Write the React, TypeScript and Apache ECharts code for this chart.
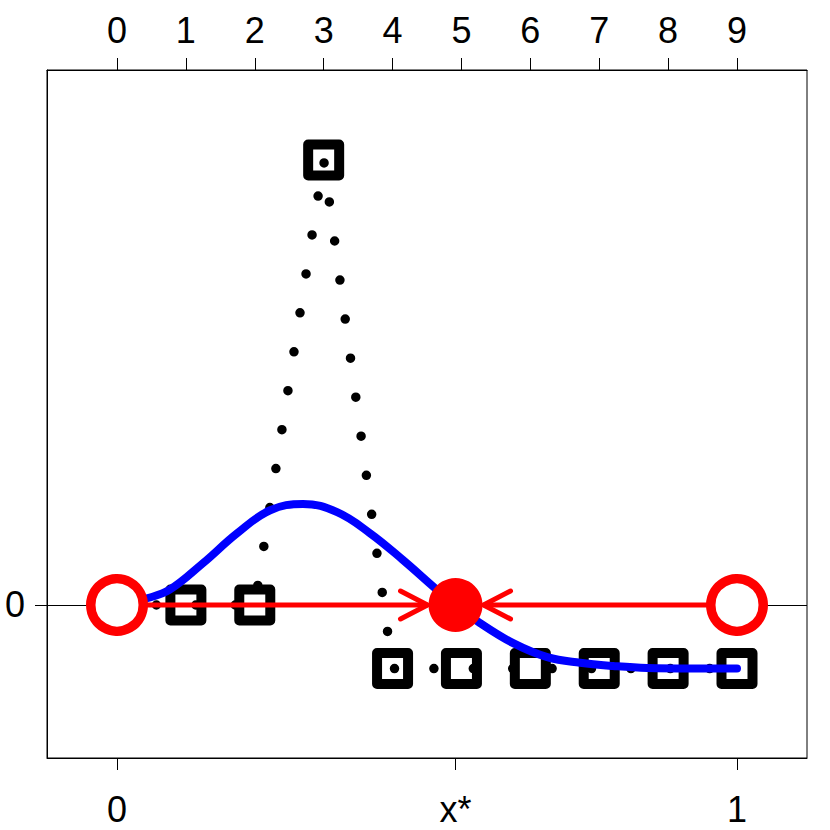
import React, { useEffect, useRef } from "react";
import * as echarts from "echarts";

// ---- data ----
const stepTicks = [0, 1, 2, 3, 4, 5, 6, 7, 8, 9];
const stepValues = [0, 0, 0, 7, -1, -1, -1, -1, -1, -1];
const xStar = 0.546;
const bottomTickValues = [0, xStar, 1];
const bottomTickLabels = ["0", "x*", "1"];
const yTickValues = [0];
const curveX = [0, 0.05, 0.085, 0.139, 0.194, 0.247, 0.3, 0.355, 0.408, 0.461, 0.516, 0.546, 0.585, 0.639, 0.694, 0.747, 0.8, 0.855, 1.0];
const curveY = [0, 0.11, 0.24, 0.66, 1.13, 1.49, 1.59, 1.46, 1.13, 0.71, 0.24, 0, -0.28, -0.6, -0.82, -0.91, -0.96, -0.99, -1.0];
const unstablePoints = [0, 1];
const stablePoints = [xStar];
// arrows: [start, end, y]
const arrows = [
  [0, xStar, 0],
  [1, xStar, 0],
];

const FONT = "Liberation Sans";
const FS = 36;

export default function App() {
  const ref = useRef<HTMLDivElement>(null);
  useEffect(() => {
    if (!ref.current) return;
    const chart = echarts.init(ref.current, undefined, { renderer: "svg" });
    const bxMin = -0.1129;
    const bxMax = 1.1129;
    const option: any = {
      animation: false,
      backgroundColor: "#fff",
      grid: {
        left: 47,
        right: 23,
        top: 70,
        bottom: 72,
        show: true,
        borderColor: "#000",
        borderWidth: 1,
        backgroundColor: "transparent",
      },
      xAxis: [
        {
          type: "value",
          position: "bottom",
          min: bxMin,
          max: bxMax,
          axisLine: { show: true, onZero: false, lineStyle: { color: "#000", width: 1 } },
          axisTick: { show: true, customValues: bottomTickValues, length: 12, lineStyle: { color: "#000", width: 1 } },
          axisLabel: {
            show: true,
            customValues: bottomTickValues,
            margin: 33,
            fontFamily: FONT,
            fontSize: FS,
            color: "#000",
            formatter: (v: number) => {
              const i = bottomTickValues.findIndex((t) => Math.abs(t - v) < 1e-6);
              return i >= 0 ? bottomTickLabels[i] : "";
            },
          },
          splitLine: { show: false },
        },
        {
          type: "value",
          position: "top",
          min: bxMin * 9,
          max: bxMax * 9,
          axisLine: { show: true, onZero: false, lineStyle: { color: "#000", width: 1 } },
          axisTick: { show: true, customValues: stepTicks, length: 12, lineStyle: { color: "#000", width: 1 } },
          axisLabel: {
            show: true,
            customValues: stepTicks,
            margin: 22,
            fontFamily: FONT,
            fontSize: FS,
            color: "#000",
            formatter: (v: number) => String(Math.round(v)),
          },
          splitLine: { show: false },
        },
      ],
      yAxis: {
        type: "value",
        min: -2.407,
        max: 8.416,
        axisLine: { show: true, onZero: false, lineStyle: { color: "#000", width: 1 } },
        axisTick: { show: true, customValues: yTickValues, length: 12, lineStyle: { color: "#000", width: 1 } },
        axisLabel: {
          show: true,
          customValues: yTickValues,
          margin: 22,
          fontFamily: FONT,
          fontSize: FS,
          color: "#000",
        },
        splitLine: { show: false },
      },
      series: [
        {
          type: "line",
          xAxisIndex: 1,
          data: stepTicks.map((t, i) => [t, stepValues[i]]),
          symbol: "none",
          lineStyle: { color: "#000", width: 9.5, type: [0, 39.4], cap: "round", opacity: 1 },
          z: 2,
          markLine: {
            silent: true,
            symbol: "none",
            label: { show: false },
            lineStyle: { color: "#000", width: 1, type: "solid", opacity: 1 },
            data: [{ yAxis: 0 }],
            z: 1,
          },
        },
        {
          type: "scatter",
          xAxisIndex: 1,
          data: stepTicks.map((t, i) => [t, stepValues[i]]),
          symbol: "rect",
          symbolSize: 31,
          itemStyle: { color: "transparent", borderColor: "#000", borderWidth: 10, borderJoin: "round", opacity: 1 },
          z: 3,
        },
        {
          type: "line",
          xAxisIndex: 0,
          data: curveX.map((x, i) => [x, curveY[i]]),
          symbol: "none",
          smooth: 0.4,
          lineStyle: { color: "#0000ff", width: 8, cap: "round", opacity: 1 },
          z: 4,
        },
        {
          type: "custom",
          xAxisIndex: 0,
          data: arrows,
          encode: { x: [0, 1], y: 2 },
          renderItem: (params: any, api: any) => {
            const x0 = api.value(0);
            const x1 = api.value(1);
            const y = api.value(2);
            const p0 = api.coord([x0, y]);
            const p1 = api.coord([x1, y]);
            const dir = p1[0] > p0[0] ? 1 : -1;
            const tip = [p1[0] - dir * 28, p1[1]];
            return {
              type: "group",
              children: [
                {
                  type: "line",
                  shape: { x1: p0[0], y1: p0[1], x2: tip[0], y2: tip[1] },
                  style: { stroke: "#ff0000", lineWidth: 5 },
                },
                {
                  type: "polyline",
                  shape: {
                    points: [
                      [tip[0] - dir * 27, tip[1] - 14],
                      [tip[0], tip[1]],
                      [tip[0] - dir * 27, tip[1] + 14],
                    ],
                  },
                  style: { stroke: "#ff0000", lineWidth: 5, lineCap: "round", lineJoin: "round", fill: null },
                },
              ],
            };
          },
          z: 5,
        },
        {
          type: "scatter",
          xAxisIndex: 0,
          data: unstablePoints.map((x) => [x, 0]),
          symbol: "circle",
          symbolSize: 52.5,
          itemStyle: { color: "#fff", borderColor: "#ff0000", borderWidth: 9.5, opacity: 1 },
          z: 6,
        },
        {
          type: "scatter",
          xAxisIndex: 0,
          data: stablePoints.map((x) => [x, 0]),
          symbol: "circle",
          symbolSize: 54,
          itemStyle: { color: "#ff0000", opacity: 1 },
          z: 6,
        },
      ],
    };
    chart.setOption(option);
    return () => chart.dispose();
  }, []);
  return (
    <div
      ref={ref}
      style={{ position: "fixed", left: 0, top: 0, width: 830, height: 830, background: "#fff" }}
    />
  );
}
